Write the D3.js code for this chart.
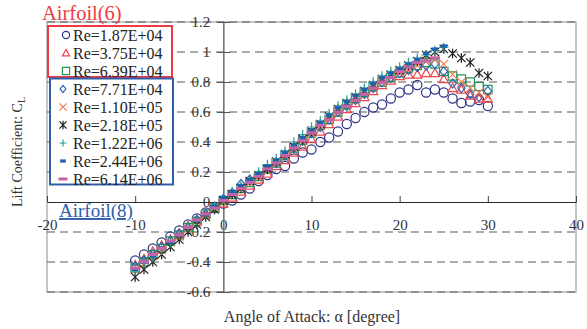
<!DOCTYPE html>
<html>
<head>
<meta charset="utf-8">
<script src="https://cdn.jsdelivr.net/npm/d3@7"></script>
<style>
  html, body { margin: 0; padding: 0; background: #fff; }
  svg { display: block; font-family: "Liberation Serif", "Times New Roman", serif; }
  svg text { font-family: "Liberation Serif", "Times New Roman", serif; }
</style>
</head>
<body>
<svg id="chart" width="587" height="329"></svg>
<script>
// Angle of attack (degrees)
const alpha30 = [-10,-9,-8,-7,-6,-5,-4,-3,-2,-1,0,1,2,3,4,5,6,7,8,9,10,11,12,13,14,15,16,17,18,19,20,21,22,23,24,25,26,27,28,29,30];
const alpha25 = [-10,-9,-8,-7,-6,-5,-4,-3,-2,-1,0,1,2,3,4,5,6,7,8,9,10,11,12,13,14,15,16,17,18,19,20,21,22,23,24,25];
const alpha24 = [-10,-9,-8,-7,-6,-5,-4,-3,-2,-1,0,1,2,3,4,5,6,7,8,9,10,11,12,13,14,15,16,17,18,19,20,21,22,23,24];

// Lift coefficient for each Reynolds number
const clRe187e4 = [-0.39,-0.35,-0.31,-0.27,-0.23,-0.19,-0.15,-0.11,-0.07,-0.04,
  -0.01,0.01,0.05,0.09,0.14,0.18,0.22,0.24,0.29,0.33,
  0.35,0.40,0.43,0.47,0.52,0.56,0.60,0.63,0.65,0.69,
  0.73,0.75,0.78,0.73,0.75,0.73,0.69,0.66,0.67,0.68,0.64];
const clRe375e4 = [-0.42,-0.38,-0.33,-0.29,-0.25,-0.21,-0.16,-0.12,-0.08,-0.04,
  -0.01,0.03,0.07,0.11,0.15,0.19,0.24,0.28,0.33,0.37,
  0.42,0.47,0.52,0.57,0.62,0.66,0.70,0.74,0.78,0.81,
  0.84,0.85,0.85,0.86,0.86,0.82,0.76,0.75,0.71,0.69,0.69];
const clRe639e4 = [-0.44,-0.40,-0.35,-0.31,-0.26,-0.22,-0.17,-0.13,-0.08,-0.04,
  0.01,0.05,0.09,0.13,0.17,0.22,0.26,0.31,0.36,0.41,
  0.46,0.51,0.55,0.60,0.65,0.69,0.73,0.77,0.80,0.83,
  0.86,0.89,0.91,0.93,0.92,0.87,0.84,0.82,0.80,0.77,0.75];
const clRe771e4 = [-0.43,-0.39,-0.35,-0.30,-0.26,-0.21,-0.17,-0.12,-0.08,-0.03,
  0.02,0.06,0.12,0.15,0.18,0.22,0.26,0.31,0.36,0.41,
  0.46,0.50,0.55,0.60,0.64,0.68,0.72,0.76,0.80,0.83,
  0.86,0.88,0.90,0.91,0.92,0.87,0.79,0.76,0.72,0.70,0.74];
const clRe110e5 = [-0.45,-0.41,-0.36,-0.32,-0.27,-0.23,-0.18,-0.13,-0.09,-0.04,
  0.00,0.05,0.09,0.13,0.17,0.21,0.26,0.31,0.36,0.41,
  0.46,0.51,0.55,0.60,0.65,0.69,0.73,0.77,0.80,0.84,
  0.87,0.89,0.91,0.94,0.95,0.92,0.85,0.80,0.76,0.73,0.70];
const clRe218e5 = [-0.50,-0.45,-0.40,-0.35,-0.30,-0.25,-0.20,-0.15,-0.10,-0.05,
  0.01,0.05,0.09,0.14,0.18,0.22,0.27,0.32,0.37,0.42,
  0.47,0.52,0.57,0.62,0.66,0.70,0.74,0.78,0.82,0.85,
  0.88,0.91,0.94,0.98,1.00,1.02,0.99,0.96,0.93,0.86,0.84];
const clRe122e6 = [-0.46,-0.41,-0.37,-0.32,-0.27,-0.22,-0.17,-0.13,-0.08,-0.03,
  0.02,0.07,0.11,0.15,0.20,0.25,0.29,0.34,0.40,0.45,
  0.50,0.54,0.59,0.64,0.68,0.72,0.76,0.80,0.84,0.87,
  0.90,0.93,0.96,0.98,1.01,1.03];
const clRe244e6 = [-0.45,-0.40,-0.36,-0.31,-0.27,-0.22,-0.17,-0.12,-0.08,-0.03,
  0.03,0.07,0.11,0.15,0.19,0.24,0.28,0.33,0.38,0.43,
  0.48,0.53,0.58,0.63,0.67,0.71,0.75,0.79,0.83,0.86,
  0.89,0.92,0.95,0.99,1.02,1.04];
const clRe614e6 = [-0.44,-0.40,-0.35,-0.31,-0.26,-0.22,-0.17,-0.12,-0.08,-0.04,
  0.01,0.05,0.09,0.13,0.17,0.22,0.26,0.31,0.36,0.41,
  0.46,0.51,0.55,0.60,0.64,0.68,0.72,0.76,0.80,0.83,
  0.87,0.90,0.93,0.94,0.96];

// Legend labels and axis ticks
const reLabels = ["Re=1.87E+04","Re=3.75E+04","Re=6.39E+04","Re=7.71E+04","Re=1.10E+05",
                  "Re=2.18E+05","Re=1.22E+06","Re=2.44E+06","Re=6.14E+06"];
const xTicks = [-20,-10,0,10,20,30,40];
const yTicks = [-0.6,-0.4,-0.2,0,0.2,0.4,0.6,0.8,1,1.2];

const serif = "'Liberation Serif', 'Times New Roman', serif";

// Marker shapes, each centred on the origin; s is half the marker width
const shapes = {
  circle:   s => { const p = d3.path(); p.arc(0,0,s,0,2*Math.PI); p.closePath(); return p.toString(); },
  triangle: s => `M0,${-s}L${s},${s*0.8}L${-s},${s*0.8}Z`,
  square:   s => `M${-s},${-s}H${s}V${s}H${-s}Z`,
  diamond:  s => `M0,${-s}L${s*0.8},0L0,${s}L${-s*0.8},0Z`,
  times:    s => `M${-s},${-s}L${s},${s}M${s},${-s}L${-s},${s}`,
  asterisk: s => `M${-s},${-s}L${s},${s}M${s},${-s}L${-s},${s}M0,${-s*1.15}L0,${s*1.15}`,
  plus:     s => `M${-s},0H${s}M0,${-s}V${s}`,
  dashS:    s => `M${-s*0.65},${-1.6}H${s*0.65}V${1.6}H${-s*0.65}Z`,
  dashL:    s => `M${-s},${-1.5}H${s}V${1.5}H${-s}Z`
};

const series = [
  { label: reLabels[0], x: alpha30, y: clRe187e4, shape: "circle",   color: "#2b3486", fill: false, size: 4.6 },
  { label: reLabels[1], x: alpha30, y: clRe375e4, shape: "triangle", color: "#f0464f", fill: false, size: 4.6 },
  { label: reLabels[2], x: alpha30, y: clRe639e4, shape: "square",   color: "#23975a", fill: false, size: 4.2 },
  { label: reLabels[3], x: alpha30, y: clRe771e4, shape: "diamond",  color: "#2a5fb4", fill: false, size: 4.6 },
  { label: reLabels[4], x: alpha30, y: clRe110e5, shape: "times",    color: "#f47a52", fill: false, size: 4.2 },
  { label: reLabels[5], x: alpha30, y: clRe218e5, shape: "asterisk", color: "#1e1e1e", fill: false, size: 4.2 },
  { label: reLabels[6], x: alpha25, y: clRe122e6, shape: "plus",     color: "#2aa09c", fill: false, size: 4.8 },
  { label: reLabels[7], x: alpha25, y: clRe244e6, shape: "dashS",    color: "#2060b0", fill: true,  size: 4.8 },
  { label: reLabels[8], x: alpha24, y: clRe614e6, shape: "dashL",    color: "#c463a6", fill: true,  size: 5.0 }
];

const svg = d3.select("#chart");
const x = d3.scaleLinear().domain([-20, 40]).range([47, 576]);
const y = d3.scaleLinear().domain([-0.6, 1.2]).range([292, 22]);

// Plot frame
svg.append("rect")
  .attr("x", x(-20)).attr("y", y(1.2))
  .attr("width", x(40) - x(-20)).attr("height", y(-0.6) - y(1.2))
  .attr("fill", "none").attr("stroke", "#b8b8b8").attr("stroke-width", 1.6);

// Dashed horizontal gridlines
svg.append("g").selectAll("line")
  .data(yTicks.filter(d => d !== 0))
  .join("line")
  .attr("x1", x(-20)).attr("x2", x(40))
  .attr("y1", d => y(d)).attr("y2", d => y(d))
  .attr("stroke", "#5a5a5a").attr("stroke-width", 1.1)
  .attr("stroke-dasharray", "8,5");

// Horizontal axis through CL = 0, ticks pointing up, labels below
const xAxis = svg.append("g")
  .attr("transform", `translate(0,${y(0)})`)
  .call(d3.axisBottom(x).tickValues(xTicks).tickFormat(d => String(d))
        .tickSizeInner(-6).tickSizeOuter(0).tickPadding(17));
xAxis.attr("font-family", serif);
xAxis.select(".domain").attr("stroke", "#2a2a2a").attr("stroke-width", 1.2);
xAxis.selectAll(".tick line").attr("stroke", "#444");
xAxis.selectAll(".tick text")
  .attr("font-family", serif).attr("font-size", 15).attr("fill", "#333");

// Vertical axis through alpha = 0, ticks crossing, labels to the left
const yAxis = svg.append("g")
  .attr("transform", `translate(${x(0)},0)`)
  .call(d3.axisLeft(y).tickValues(yTicks).tickFormat(d => String(d))
        .tickSizeInner(6).tickSizeOuter(0).tickPadding(7));
yAxis.attr("font-family", serif);
yAxis.select(".domain").attr("stroke", "#6a6a6a").attr("stroke-width", 1.5);
yAxis.selectAll(".tick line").attr("x2", 7).attr("x1", -6).attr("stroke", "#555");
yAxis.selectAll(".tick text")
  .attr("font-family", serif).attr("font-size", 15).attr("fill", "#333");

// Data markers
const marks = svg.append("g");
series.forEach(s => {
  const pts = s.x.map((a, i) => ({ a, c: s.y[i] }));
  marks.append("g").selectAll("path")
    .data(pts)
    .join("path")
    .attr("transform", d => `translate(${x(d.a)},${y(d.c)})`)
    .attr("d", shapes[s.shape](s.size))
    .attr("fill", s.fill ? s.color : "none")
    .attr("stroke", s.fill ? "none" : s.color)
    .attr("stroke-width", 1.2);
});

// Legend boxes
svg.append("rect").attr("x", 48).attr("y", 26).attr("width", 124).attr("height", 51)
  .attr("fill", "#fff").attr("stroke", "#ee3a44").attr("stroke-width", 2);
svg.append("rect").attr("x", 50).attr("y", 78.5).attr("width", 123).attr("height", 106)
  .attr("fill", "#fff").attr("stroke", "#2f5daa").attr("stroke-width", 2);

const legend = svg.append("g");
series.forEach((s, i) => {
  const cy = 35 + i * 18;
  const mx = i < 3 ? 66 : 63;
  legend.append("path")
    .attr("transform", `translate(${mx},${cy})`)
    .attr("d", shapes[s.shape](s.shape.startsWith("dash") ? s.size * 0.9 : 3.6))
    .attr("fill", s.fill ? s.color : "none")
    .attr("stroke", s.fill ? "none" : s.color)
    .attr("stroke-width", 1.2);
  legend.append("text")
    .attr("x", 73).attr("y", cy + 5.5)
    .attr("font-family", serif).attr("font-size", 16).attr("fill", "#222")
    .text(s.label);
});

// Airfoil group captions
svg.append("text").attr("x", 42).attr("y", 20)
  .attr("font-family", serif).attr("font-size", 20.5).attr("fill", "#ee3a44").text("Airfoil(6)");
svg.append("text").attr("x", 59).attr("y", 217)
  .attr("font-family", serif).attr("font-size", 19).attr("fill", "#2f5daa")
  .attr("text-decoration", "underline").text("Airfoil(8)");

// Axis titles
svg.append("text")
  .attr("x", 312).attr("y", 322)
  .attr("text-anchor", "middle").attr("font-family", serif).attr("font-size", 16).attr("fill", "#333")
  .text("Angle of Attack: α [degree]");

const yTitle = svg.append("text")
  .attr("transform", "translate(22,152) rotate(-90)")
  .attr("text-anchor", "middle").attr("font-family", serif).attr("font-size", 14).attr("fill", "#333");
yTitle.append("tspan").text("Lift Coefficient: C");
yTitle.append("tspan").attr("font-size", 10).attr("dy", 3).text("L");
</script>
</body>
</html>
